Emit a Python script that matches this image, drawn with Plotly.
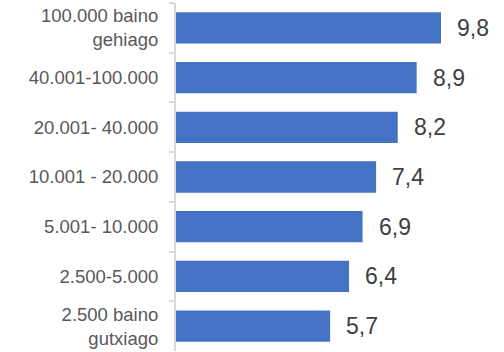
import plotly.graph_objects as go

categories = ["100.000 baino<br>gehiago", "40.001-100.000", "20.001- 40.000",
              "10.001 - 20.000", "5.001- 10.000", "2.500-5.000", "2.500 baino<br>gutxiago"]
values = [9.8, 8.9, 8.2, 7.4, 6.9, 6.4, 5.7]
value_labels = [f"{v:.1f}".replace(".", ",") for v in values]

fig = go.Figure(go.Bar(
    x=values, y=categories, orientation="h",
    marker=dict(color="#4472C4", line=dict(width=0)),
    width=0.63,
))

for v, c, t in zip(values, categories, value_labels):
    fig.add_annotation(x=v, y=c, text=t, showarrow=False, xanchor="left",
                       xshift=14, font=dict(family="Liberation Sans, Arial", size=23, color="#404040"))

fig.update_layout(
    width=504, height=352,
    margin=dict(l=176, r=0, t=3, b=1),
    plot_bgcolor="white", paper_bgcolor="white",
    showlegend=False,
    bargap=0.37,
    xaxis=dict(range=[0, 12.13], visible=False, fixedrange=True),
    yaxis=dict(autorange="reversed", showline=True, linecolor="#d9d9d9", linewidth=2,
               ticks="outside", tickson="boundaries", ticklen=5, tickcolor="#d9d9d9",
               tickwidth=1.5, showgrid=False, ticklabelstandoff=12,
               tickfont=dict(family="Liberation Sans, Arial", size=18.5, color="#595959")),
)

fig.write_html("out.html")
